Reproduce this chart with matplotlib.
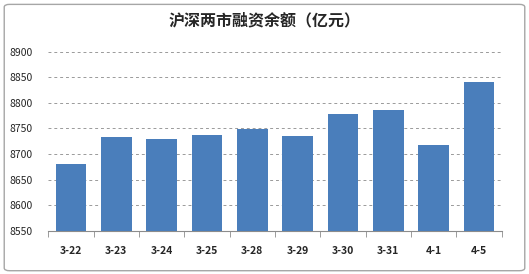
import matplotlib.pyplot as plt
from matplotlib.patches import FancyBboxPatch

plt.rcParams['font.family'] = ['Noto Sans CJK SC', 'DejaVu Sans']

# data
dates = ["3-22", "3-23", "3-24", "3-25", "3-28", "3-29", "3-30", "3-31", "4-1", "4-5"]
balance = [8680, 8733, 8729, 8738, 8749, 8735, 8778, 8787, 8718, 8841]
yticks = [8550, 8600, 8650, 8700, 8750, 8800, 8850, 8900]

fig = plt.figure(figsize=(5.29, 2.74), dpi=100)

# outer border
border = FancyBboxPatch((0.008, 0.012), 0.984, 0.972,
                        boxstyle="round,pad=0,rounding_size=0.01",
                        transform=fig.transFigure, fill=False,
                        edgecolor="#a6a6a6", linewidth=1.0)
fig.patches.append(border)

ax = fig.add_axes([0.0913, 0.158, 0.857, 0.653])

x = list(range(len(dates)))
ax.bar(x, balance, width=0.68, color="#4a7ebb", zorder=3)

ax.set_ylim(8550, 8900)
ax.set_xlim(-0.5, len(dates) - 0.5)
ax.set_yticks(yticks)
ax.set_yticklabels([str(v) for v in yticks], fontsize=7.5, color="#262626")
ax.yaxis.grid(True, linestyle=(0, (3, 3)), color="#9a9a9a", linewidth=0.7, zorder=0)

ax.set_xticks(x)
ax.set_xticklabels(dates, fontsize=7.5, fontweight="bold", color="#262626")
ax.set_xticks([i - 0.5 for i in range(len(dates) + 1)], minor=True)
ax.tick_params(axis="x", which="major", length=0, pad=11)
ax.tick_params(axis="x", which="minor", length=4, color="#8c8c8c", direction="out")
ax.tick_params(axis="y", length=0, pad=11)

for s in ["left", "right", "top"]:
    ax.spines[s].set_visible(False)
ax.spines["bottom"].set_color("#8c8c8c")

fig.text(0.5, 0.925, "沪深两市融资余额（亿元）", ha="center", va="center",
         fontsize=11.5, fontweight="bold", color="#262626")

plt.savefig("out.png", dpi=100)
